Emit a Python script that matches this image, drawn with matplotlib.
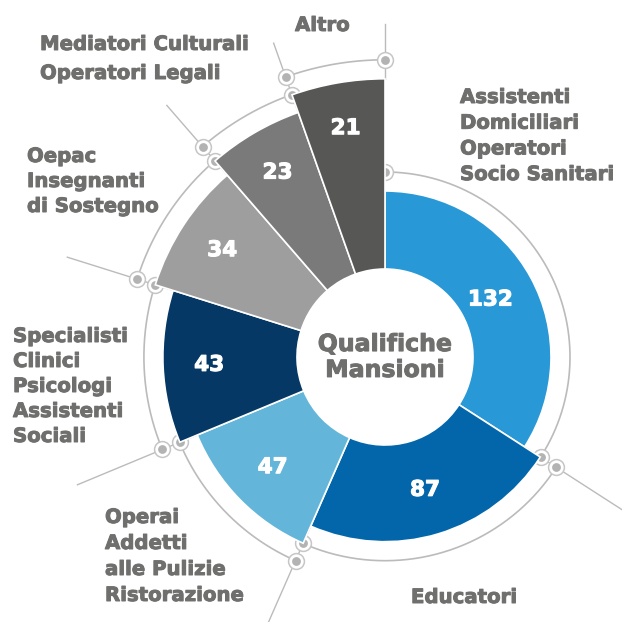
import numpy as np
import matplotlib
matplotlib.use("Agg")
import matplotlib.pyplot as plt
import matplotlib.patheffects as pe

# data, clockwise from 12 o'clock
labels = ["Assistenti\nDomiciliari\nOperatori\nSocio Sanitari",
          "Educatori",
          "Operai\nAddetti\nalle Pulizie\nRistorazione",
          "Specialisti\nClinici\nPsicologi\nAssistenti\nSociali",
          "Oepac\nInsegnanti\ndi Sostegno",
          "Mediatori Culturali\nOperatori Legali",
          "Altro"]
values = [132, 87, 47, 43, 34, 23, 21]
colors = ["#2898d6", "#0366aa", "#63b5d9", "#053865", "#9e9e9e", "#7a7a7a", "#575756"]

# label anchors in pixels: x, first baseline, line pitch
label_pos = [(460, 103, 25.7), (411, 603, 0), (105, 523, 26), (13, 342, 25),
             (27, 162, 25), (40, 50, 29), (295, 31, 0)]

W = 622
DPI = 100
cx, cy = 385, 357          # centre of the chart in pixels
r_in = 88                  # hole radius
r_base, r_step = 166, 18.7 # outer radius grows with each wedge
gap = 19                   # distance from wedge edge to its grey arc
r_line = 333               # end of the radial ticks
grey = "#bbbbbb"
txt_grey = "#6f6f6e"
font = "DejaVu Sans"

fig = plt.figure(figsize=(W / DPI, W / DPI), dpi=DPI)
R = 345
ax = fig.add_axes([(cx - R) / W, (W - cy - R) / W, 2 * R / W, 2 * R / W], projection="polar")
ax.set_theta_zero_location("N")
ax.set_theta_direction(-1)
ax.set_ylim(0, R)
ax.set_axis_off()

vals = np.array(values, dtype=float)
widths = vals / vals.sum() * 2 * np.pi
starts = np.concatenate([[0], np.cumsum(widths)[:-1]])
ends = starts + widths
r_out = r_base + r_step * np.arange(len(vals))
r_arc = r_out + gap

# radial ticks at each boundary
for k in range(len(vals)):
    t = ends[k]
    ax.plot([t, t], [r_out[k], r_line], color=grey, lw=1.0, zorder=1)

# grey arcs and their end markers
for k in range(len(vals)):
    t = np.linspace(starts[k], ends[k], 200)
    ax.plot(t, np.full_like(t, r_arc[k]), color=grey, lw=1.2, zorder=1)
    for te in (starts[k], ends[k]):
        ax.scatter([te], [r_arc[k]], s=130, facecolor="white", edgecolor="#c6c6c6",
                   linewidth=1.1, zorder=2)
        ax.scatter([te], [r_arc[k]], s=40, color="#b3b3b3", linewidth=0, zorder=3)

# wedges
ax.bar(starts, r_out - r_in, width=widths, bottom=r_in, align="edge",
       color=colors, edgecolor="white", linewidth=1.2, zorder=4)

# values inside the wedges
for k in range(len(vals)):
    ax.text(starts[k] + widths[k] / 2, r_out[k] - 46, str(values[k]), color="white",
            fontsize=15.5, fontweight="bold", family=font, ha="center", va="center", zorder=5,
            path_effects=[pe.withStroke(linewidth=0.8, foreground="white")])

ax.text(0, 0, "Qualifiche\nMansioni", color=txt_grey, fontsize=17, fontweight="bold",
        family=font, ha="center", va="center", linespacing=1.1, zorder=5,
        path_effects=[pe.withStroke(linewidth=0.7, foreground=txt_grey)])

# category labels, one line at a time
for lab, (x, y, pitch) in zip(labels, label_pos):
    for i, line in enumerate(lab.split("\n")):
        fig.text(x / W, 1 - (y + i * pitch) / W, line, color=txt_grey, fontsize=14.2,
                 fontweight="bold", family=font, ha="left", va="baseline",
                 path_effects=[pe.withStroke(linewidth=0.7, foreground=txt_grey)])

fig.savefig("out.png", dpi=DPI)
